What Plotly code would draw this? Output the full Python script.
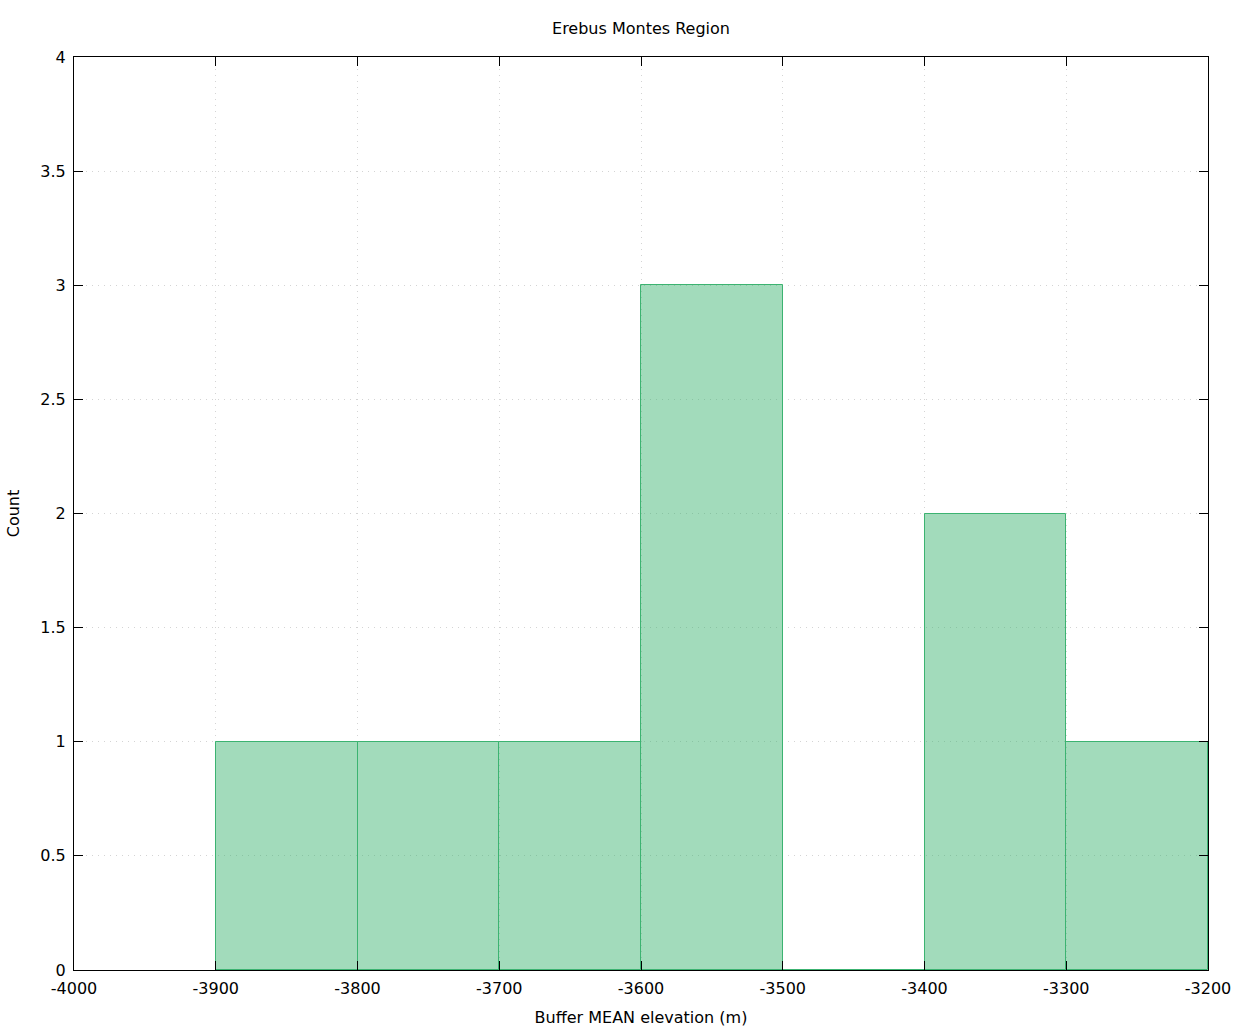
import plotly.graph_objects as go

bin_left = [-3900, -3800, -3700, -3600, -3500, -3400, -3300]
counts = [1, 1, 1, 3, 0, 2, 1]
bin_width = 100
x_ticks = [-4000, -3900, -3800, -3700, -3600, -3500, -3400, -3300, -3200]
y_ticks = [0, 0.5, 1, 1.5, 2, 2.5, 3, 3.5, 4]
y_tick_text = ["0", "0.5", "1", "1.5", "2", "2.5", "3", "3.5", "4"]

centers = [b + bin_width / 2 for b in bin_left]

fig = go.Figure()
fig.add_trace(go.Bar(
    x=centers, y=counts, width=[bin_width] * len(counts),
    marker=dict(color="rgba(60,179,113,0.48)", line=dict(color="#3cb371", width=1)),
    showlegend=False,
))

axis_common = dict(
    showline=True, linecolor="black", linewidth=1, mirror="ticks",
    ticks="inside", ticklen=9, tickcolor="black", tickwidth=1,
    showgrid=True, gridcolor="#d4d4d4", griddash="1px,5px", gridwidth=1,
    zeroline=False, tickfont=dict(size=16, color="black"),
)

fig.update_layout(
    width=1243, height=1035,
    margin=dict(l=74, r=30, t=57, b=61),
    paper_bgcolor="white", plot_bgcolor="white",
    font=dict(family="DejaVu Sans", color="black", size=16),
    title=dict(text="Erebus Montes Region", x=0.5, xref="paper", xanchor="center",
               y=1 - 28 / 1035, yref="container", yanchor="middle",
               font=dict(size=16)),
    xaxis=dict(range=[-4000, -3200], tickvals=x_ticks, ticktext=[str(v) for v in x_ticks],
               title=dict(text="Buffer MEAN elevation (m)", standoff=14, font=dict(size=16)),
               ticklabelstandoff=4,
               **axis_common),
    yaxis=dict(range=[0, 4], tickvals=y_ticks, ticktext=y_tick_text,
               title=dict(text="Count", standoff=16, font=dict(size=16)),
               ticklabelstandoff=4,
               **axis_common),
    bargap=0,
)

fig.write_html("out.html", config={"displayModeBar": False},
               post_script="document.body.style.margin='0';")
